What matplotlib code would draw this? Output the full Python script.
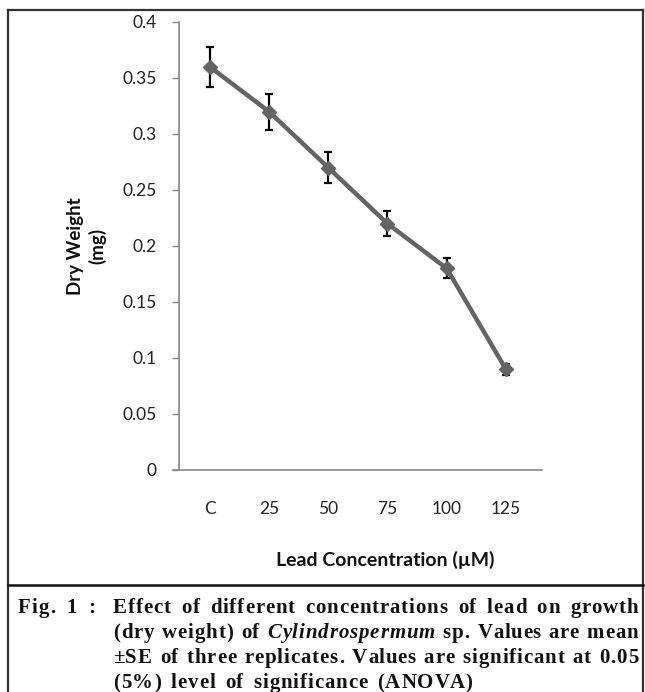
import matplotlib
matplotlib.use("Agg")
import matplotlib.pyplot as plt
from matplotlib.lines import Line2D

categories = ["C", "25", "50", "75", "100", "125"]
dry_weight = [0.36, 0.32, 0.27, 0.22, 0.18, 0.09]
se = [0.018, 0.016, 0.0135, 0.011, 0.009, 0.005]
yticks = [0, 0.05, 0.1, 0.15, 0.2, 0.25, 0.3, 0.35, 0.4]
ytick_labels = ["0", "0.05", "0.1", "0.15", "0.2", "0.25", "0.3", "0.35", "0.4"]

W, H = 645, 692
DPI = 100
sans = ["Lato", "DejaVu Sans"]
serif = ["Liberation Serif", "DejaVu Serif"]

fig = plt.figure(figsize=(W / DPI, H / DPI), dpi=DPI)
fig.patch.set_facecolor("white")

def fx(px):
    return px / W

def fy(py):
    return 1 - py / H

ax = fig.add_axes([fx(179), fy(470), fx(542) - fx(179), fy(22) - fy(470)])
x = list(range(len(categories)))
ax.errorbar(x, dry_weight, yerr=se, fmt="none", ecolor="black",
            elinewidth=1.6, capsize=3.2, capthick=1.6, zorder=2)
ax.plot(x, dry_weight, color="#646464", linewidth=3.2, marker="D",
        markersize=7.5, markerfacecolor="#646464", markeredgecolor="#646464", zorder=3)

ax.set_ylim(0, 0.4)
ax.set_xlim(-0.52, 5.61)
ax.set_yticks(yticks)
ax.set_yticklabels(ytick_labels, fontfamily=sans, fontsize=12.5, color="#222222")
ax.set_xticks(x)
ax.set_xticklabels(categories, fontfamily=sans, fontsize=12.5, color="#222222")
ax.tick_params(axis="y", direction="out", length=5, width=1, color="#888888", pad=11)
ax.tick_params(axis="x", length=0, pad=22)
for s in ["top", "right"]:
    ax.spines[s].set_visible(False)
for s in ["left", "bottom"]:
    ax.spines[s].set_color("#888888")
    ax.spines[s].set_linewidth(1.2)
ax.spines["bottom"].set_bounds(-0.62, 5.61)

fig.text(fx(87), fy(246), "Dry Weight\n(mg)", rotation=90, ha="center", va="center",
         multialignment="center", fontfamily=sans, fontsize=13.5, fontweight="bold",
         linespacing=1.3, color="#111111")
fig.text(fx(385), fy(560), "Lead Concentration (\u00b5M)", ha="center", va="center",
         fontfamily=sans, fontsize=14, fontweight="bold", color="#111111")

# frame lines
frame_color = "#333333"
fig.add_artist(Line2D([fx(8), fx(643)], [fy(10), fy(10)], color=frame_color, lw=1.6))
fig.add_artist(Line2D([fx(8), fx(8)], [fy(10), fy(700)], color=frame_color, lw=1.6))
fig.add_artist(Line2D([fx(643), fx(643)], [fy(10), fy(700)], color=frame_color, lw=1.6))
fig.add_artist(Line2D([fx(8), fx(643)], [fy(585), fy(585)], color="#111111", lw=1.8))

# caption (bold serif, letter-spaced, justified)
cap_size = 15
track = 0.9
renderer = fig.canvas.get_renderer()

def str_width(s, italic):
    if not s:
        return 0.0
    t = fig.text(0, 0, s, fontfamily=serif, fontsize=cap_size, fontweight="bold",
                 fontstyle="italic" if italic else "normal")
    w = t.get_window_extent(renderer=renderer).width
    t.remove()
    return w

def word_layout(word, italic):
    offs = []
    prev_right = None
    for i, c in enumerate(word):
        cw = str_width(c, italic)
        left = str_width(word[:i + 1], italic) - cw + track * i
        if prev_right is not None:
            left = max(left, prev_right + 0.6)
        offs.append(left)
        prev_right = left + cw
    total = prev_right if prev_right is not None else 0.0
    return total, offs

def draw_line(words, x0, x1, y_px, justify, gap_default=10):
    info = [word_layout(w, it) for w, it in words]
    total = sum(i[0] for i in info)
    if justify and len(words) > 1:
        gap = (x1 - x0 - total) / (len(words) - 1)
    else:
        gap = gap_default
    cx = x0
    for (w, it), (ww, offs) in zip(words, info):
        for c, o in zip(w, offs):
            fig.text(fx(cx + o), fy(y_px), c, ha="left", va="baseline", fontfamily=serif,
                     fontsize=cap_size, fontweight="bold",
                     fontstyle="italic" if it else "normal", color="#111111")
        cx += ww + gap

label_words = [("Fig.", False), ("1", False), (":", False)]
draw_line(label_words, 18, 95, 613, True)

caption_lines = [
    [("Effect", False), ("of", False), ("different", False), ("concentrations", False),
     ("of", False), ("lead", False), ("on", False), ("growth", False)],
    [("(dry", False), ("weight)", False), ("of", False), ("Cylindrospermum", True),
     ("sp.", False), ("Values", False), ("are", False), ("mean", False)],
    [("\u00b1SE", False), ("of", False), ("three", False), ("replicates.", False),
     ("Values", False), ("are", False), ("significant", False), ("at", False), ("0.05", False)],
    [("(5%)", False), ("level", False), ("of", False), ("significance", False), ("(ANOVA)", False)],
]
line_y = [613, 638, 663, 688]
for li, words in enumerate(caption_lines):
    draw_line(words, 113, 638, line_y[li], li < len(caption_lines) - 1)

fig.savefig("out.png", dpi=DPI, facecolor="white")
